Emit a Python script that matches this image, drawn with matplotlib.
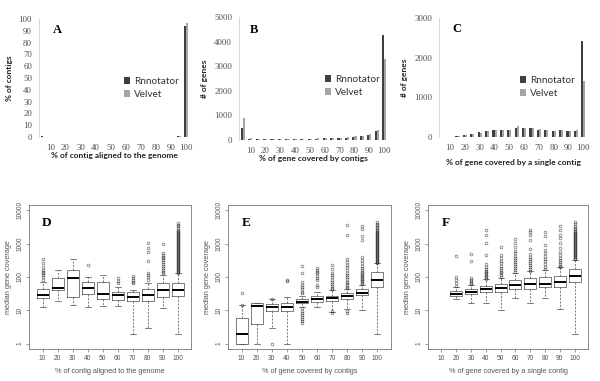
import numpy as np
import matplotlib
matplotlib.use("Agg")
import matplotlib.pyplot as plt

W, H = 600, 381

# ---------------- data: top bar charts ----------------
bar_cats = [5, 10, 15, 20, 25, 30, 35, 40, 45, 50, 55, 60, 65, 70, 75, 80, 85, 90, 95, 100]
bar_ticklabels = ["10", "20", "30", "40", "50", "60", "70", "80", "90", "100"]
series_names = ["Rnnotator", "Velvet"]

a_rnn = [0.5, 0, 0, 0, 0, 0, 0, 0, 0, 0, 0, 0, 0, 0, 0, 0, 0, 0.2, 1.0, 94]
a_vel = [0.2, 0, 0, 0, 0, 0, 0, 0, 0, 0, 0, 0, 0, 0, 0, 0, 0, 0.3, 0.6, 97]

b_rnn = [470, 60, 50, 40, 40, 40, 40, 45, 50, 55, 60, 65, 70, 80, 100, 130, 150, 200, 350, 4250]
b_vel = [890, 70, 60, 50, 50, 50, 50, 50, 60, 60, 70, 70, 80, 90, 120, 150, 180, 250, 420, 3300]

c_rnn = [0, 5, 20, 50, 80, 120, 150, 170, 180, 170, 220, 220, 220, 180, 170, 160, 170, 150, 160, 2430]
c_vel = [0, 5, 15, 40, 70, 110, 140, 170, 180, 170, 280, 230, 230, 190, 180, 160, 170, 160, 170, 1400]

# ---------------- data: bottom box plots (log10 units) ----------------
box_labels = ["10", "20", "30", "40", "50", "60", "70", "80", "90", "100"]

d_med = [1.46, 1.68, 1.96, 1.66, 1.49, 1.45, 1.41, 1.45, 1.60, 1.61]
d_q1 = [1.36, 1.61, 1.41, 1.49, 1.35, 1.31, 1.27, 1.29, 1.41, 1.42]
d_q3 = [1.63, 1.98, 2.21, 1.85, 1.84, 1.56, 1.56, 1.65, 1.81, 1.81]
d_lo = [1.09, 1.29, 1.16, 1.09, 1.13, 1.13, 0.30, 0.48, 1.06, 0.30]
d_hi = [1.86, 2.21, 2.53, 1.99, 2.05, 1.71, 1.61, 1.83, 2.06, 2.11]
d_fl = [
    [2.53, 2.41, 2.29, 2.21, 2.16, 2.11, 2.06, 1.99, 1.91],
    [],
    [],
    [2.35],
    [],
    [1.96, 1.89, 1.81],
    [2.04, 1.96, 1.91, 1.86, 1.81],
    [3.02, 2.86, 2.76, 2.48, 2.11, 2.06, 1.99, 1.91],
    [2.98, 2.71, 2.66, 2.61, 2.56, 2.51, 2.46, 2.39, 2.33, 2.26, 2.21, 2.16, 2.11],
    [3.62, 3.57, 3.52, 3.47, 3.42, 3.38, 3.35, 3.32, 3.29, 3.26, 3.23, 3.20, 3.17,
     3.14, 3.11, 3.08, 3.05, 3.02, 2.99, 2.96, 2.93, 2.90, 2.87, 2.84, 2.81, 2.78,
     2.75, 2.72, 2.69, 2.66, 2.63, 2.60, 2.57, 2.54, 2.51, 2.48, 2.45, 2.42, 2.39,
     2.36, 2.33, 2.30, 2.27, 2.24, 2.21, 2.18, 2.15, 2.12],
]

e_med = [0.30, 1.13, 1.11, 1.11, 1.26, 1.34, 1.36, 1.43, 1.53, 1.91]
e_q1 = [0.00, 0.60, 0.99, 0.99, 1.21, 1.25, 1.29, 1.35, 1.46, 1.71]
e_q3 = [0.78, 1.23, 1.18, 1.21, 1.33, 1.43, 1.43, 1.51, 1.63, 2.14]
e_lo = [0.00, 0.00, 0.48, 0.00, 1.11, 1.09, 0.95, 1.03, 1.00, 0.30]
e_hi = [1.16, 1.21, 1.33, 1.39, 1.43, 1.56, 1.61, 1.65, 1.76, 2.41]
e_fl = [
    [1.51, 1.15],
    [],
    [1.35, 0.0],
    [1.91, 1.87],
    [2.33, 2.11, 1.86, 1.76, 1.71, 1.63, 1.56, 1.51,
     1.06, 0.98, 0.92, 0.86, 0.80, 0.74, 0.68, 0.62],
    [2.26, 2.21, 2.16, 2.11, 2.03, 1.96, 1.91, 1.76, 1.69],
    [2.36, 2.23, 2.13, 2.05, 1.99, 1.91, 1.85, 1.79, 1.73, 1.67, 1.63, 0.98, 0.92],
    [3.57, 3.27, 2.53, 2.46, 2.36, 2.29, 2.21, 2.13, 2.06, 1.99, 1.93, 1.86, 1.81,
     1.76, 1.71, 1.67, 0.98, 0.92],
    [3.52, 3.44, 3.22, 3.12, 2.61, 2.51, 2.41, 2.33, 2.26, 2.21, 2.16, 2.11, 2.06,
     2.03, 1.99, 1.95, 1.91, 1.87, 1.83, 1.79],
    [3.66, 3.60, 3.55, 3.50, 3.46, 3.42, 3.39, 3.36, 3.33, 3.30, 3.27, 3.24, 3.21,
     3.18, 3.15, 3.12, 3.09, 3.06, 3.03, 3.00, 2.97, 2.94, 2.91, 2.88, 2.85, 2.82,
     2.79, 2.76, 2.73, 2.70, 2.67, 2.64, 2.61, 2.58, 2.55, 2.52, 2.49, 2.46, 2.43],
]

f_med = [None, 1.49, 1.56, 1.64, 1.68, 1.77, 1.78, 1.78, 1.84, 2.03]
f_q1 = [None, 1.44, 1.48, 1.54, 1.55, 1.64, 1.65, 1.69, 1.71, 1.84]
f_q3 = [None, 1.58, 1.64, 1.73, 1.78, 1.91, 1.96, 1.99, 2.03, 2.23]
f_lo = [None, 1.33, 1.23, 1.23, 1.00, 1.36, 1.21, 1.36, 1.03, 0.30]
f_hi = [None, 1.69, 1.76, 1.93, 1.96, 2.11, 2.19, 2.21, 2.29, 2.51]
f_fl = [
    [],
    [2.64, 1.99, 1.91, 1.81, 1.73],
    [2.68, 2.48, 1.96, 1.91, 1.87, 1.83, 1.79],
    [3.40, 3.27, 3.02, 2.66, 2.39, 2.31, 2.25, 2.19, 2.15, 2.11, 2.07, 2.03, 1.99, 1.95],
    [2.89, 2.66, 2.56, 2.49, 2.41, 2.33, 2.26, 2.21, 2.16, 2.11, 2.06, 2.01],
    [3.14, 3.02, 2.89, 2.79, 2.71, 2.64, 2.57, 2.51, 2.45, 2.39, 2.33, 2.27, 2.21, 2.16],
    [3.42, 3.34, 3.26, 3.12, 2.83, 2.69, 2.61, 2.55, 2.49, 2.43, 2.37, 2.31, 2.25, 2.19],
    [3.34, 3.22, 2.96, 2.81, 2.71, 2.63, 2.55, 2.47, 2.39, 2.31, 2.23],
    [3.52, 3.42, 3.27, 3.17, 3.02, 2.86, 2.76, 2.66, 2.58, 2.51, 2.45, 2.39, 2.33, 2.29],
    [3.65, 3.58, 3.52, 3.47, 3.43, 3.39, 3.35, 3.32, 3.29, 3.26, 3.23, 3.20, 3.17,
     3.14, 3.11, 3.08, 3.05, 3.02, 2.99, 2.96, 2.93, 2.90, 2.87, 2.84, 2.81, 2.78,
     2.75, 2.72, 2.69, 2.66, 2.63, 2.60, 2.57, 2.54],
]

# ---------------- figure ----------------
fig = plt.figure(figsize=(W / 100, H / 100), dpi=100)
fig.patch.set_facecolor("white")


def px_axes(l, r, t, b):
    return fig.add_axes([l / W, 1 - b / H, (r - l) / W, (b - t) / H])


DARK = "#3f3f3f"
LIGHT = "#a5a5a5"
SERIF = "Liberation Serif"
SANS_XL = "Lato"


def bar_panel(rect, rnn, vel, ymax, ystep, letter, ylabel, xlabel, xlab_y, leg_xy, letter_xy):
    ax = px_axes(*rect)
    x = np.arange(len(bar_cats))
    w = 0.28
    ax.bar(x - w / 2, rnn, width=w, color=DARK, label=series_names[0])
    ax.bar(x + w / 2, vel, width=w, color=LIGHT, label=series_names[1])
    ax.set_xlim(-0.5, len(bar_cats) - 0.5)
    ax.set_ylim(0, ymax)
    ax.set_yticks(np.arange(0, ymax + 1, ystep))
    ax.set_xticks(x[1::2])
    ax.set_xticklabels(bar_ticklabels)
    for s in ["top", "right"]:
        ax.spines[s].set_visible(False)
    ax.spines["bottom"].set_visible(False)
    ax.spines["left"].set_color("#d0d0d0")
    ax.spines["left"].set_linewidth(0.6)
    ax.tick_params(axis="both", length=0, labelsize=6.3, colors="#505050", pad=5)
    for t in ax.get_xticklabels() + ax.get_yticklabels():
        t.set_fontfamily(SERIF)
    ax.set_ylabel(ylabel, fontsize=6, fontweight="bold", family=SANS_XL, color="#222", labelpad=4)
    fig.text((rect[0] + rect[1]) / 2 / W, 1 - xlab_y / H, xlabel, fontsize=6,
             fontweight="bold", family=SANS_XL, color="#222", ha="center", va="center")
    leg = ax.legend(loc="upper left", bbox_to_anchor=((leg_xy[0] - rect[0]) / (rect[1] - rect[0]),
                                                        1 - (leg_xy[1] - rect[2]) / (rect[3] - rect[2])),
                    frameon=False, prop={"family": SANS_XL, "size": 7.2}, handlelength=0.6,
                    handleheight=0.6, handletextpad=0.4, labelspacing=0.4, borderaxespad=0,
                    borderpad=0)
    for t in leg.get_texts():
        t.set_color("#333")
    fig.text(letter_xy[0] / W, 1 - letter_xy[1] / H, letter, fontsize=9, fontweight="bold",
             family=SERIF, ha="center", va="center")
    return ax


bar_panel((39, 190, 19, 137), a_rnn, a_vel, 100, 10, "A", "% of contigs",
          "% of contig aligned to the genome", 156, (124, 77), (57, 30))
bar_panel((239, 388, 17, 140), b_rnn, b_vel, 5000, 1000, "B", "# of genes",
          "% of gene covered by contigs", 159, (325, 75), (254, 30))
bar_panel((439, 587, 18, 137), c_rnn, c_vel, 3000, 1000, "C", "# of genes",
          "% of gene covered by a single contig", 163, (520, 76), (457, 29))

# ---------------- box plots ----------------
BOXC = "#4a4a4a"
TXT = "#555555"


def box_panel(rect, med, q1, q3, lo, hi, fl, letter, xlabel):
    ax = px_axes(*rect)
    stats, pos = [], []
    for i in range(len(box_labels)):
        if med[i] is None:
            continue
        stats.append(dict(med=10 ** med[i], q1=10 ** q1[i], q3=10 ** q3[i],
                          whislo=10 ** lo[i], whishi=10 ** hi[i],
                          fliers=10 ** np.array(fl[i], dtype=float)))
        pos.append(i + 1)
    ax.bxp(stats, positions=pos, widths=0.8, capwidths=0.4, showfliers=True,
           boxprops=dict(color=BOXC, linewidth=0.5),
           whiskerprops=dict(color=BOXC, linewidth=0.5, linestyle=(0, (3, 2))),
           capprops=dict(color=BOXC, linewidth=0.5),
           medianprops=dict(color="black", linewidth=1.4, solid_capstyle="butt"),
           flierprops=dict(marker="o", markersize=2.0, markerfacecolor="none",
                           markeredgecolor="black", markeredgewidth=0.5, alpha=0.55))
    ax.set_yscale("log")
    ax.set_ylim(10 ** -0.16, 10 ** 4.16)
    ax.set_xlim(0.1, 10.9)
    ax.set_yticks([1, 10, 100, 1000, 10000])
    ax.set_yticklabels(["1", "10", "100", "1000", "10000"], rotation=90, va="center")
    ax.minorticks_off()
    ax.set_xticks(range(1, 11))
    ax.set_xticklabels(box_labels)
    for s in ax.spines.values():
        s.set_color("#777")
        s.set_linewidth(0.6)
    ax.tick_params(axis="both", length=2.5, width=0.5, color="#777", labelsize=4.8,
                   labelcolor=TXT, pad=2)
    ax.tick_params(axis="y", pad=1.5)
    for t in ax.get_xticklabels() + ax.get_yticklabels():
        t.set_fontfamily("Liberation Sans")
    ax.set_ylabel("median gene coverage", fontsize=5.3, family="Liberation Sans", color=TXT, labelpad=3)
    ax.set_xlabel(xlabel, fontsize=5.3, family="Liberation Sans", color=TXT, labelpad=4)
    ax.text(0.11, 0.875, letter, transform=ax.transAxes, fontsize=9.5, fontweight="bold",
            family=SERIF, ha="center", va="center")
    return ax


box_panel((29, 191, 205, 349), d_med, d_q1, d_q3, d_lo, d_hi, d_fl, "D",
          "% of contig aligned to the genome")
box_panel((228, 391, 205, 349), e_med, e_q1, e_q3, e_lo, e_hi, e_fl, "E",
          "% of gene covered by contigs")
box_panel((428, 588, 205, 349), f_med, f_q1, f_q3, f_lo, f_hi, f_fl, "F",
          "% of gene covered by a single contig")

fig.savefig("out.png", dpi=100, facecolor="white")
